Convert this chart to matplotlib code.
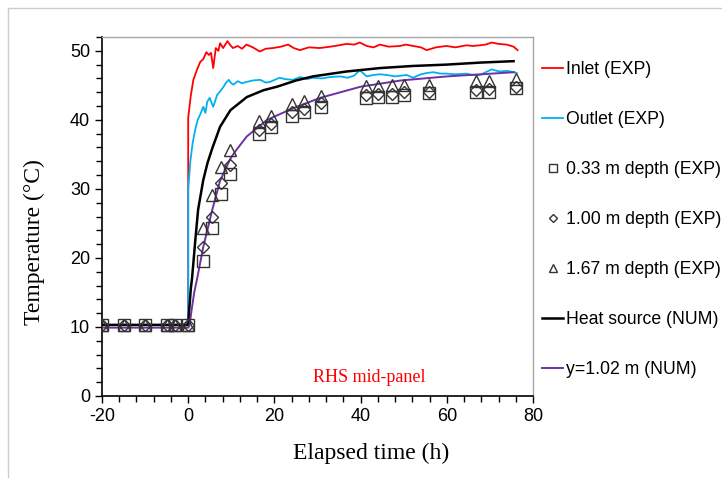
import numpy as np
import matplotlib
matplotlib.use("Agg")
import matplotlib.pyplot as plt
from matplotlib.lines import Line2D
from matplotlib.ticker import MultipleLocator

inlet = [(-20, 10.3), (0, 10.3), (0, 40.3), (0.6, 43.5), (1.2, 45.8), (2.0, 47.2),
         (2.8, 48.4), (3.5, 48.8), (4.2, 49.8), (4.8, 49.4), (5.3, 49.7), (5.8, 47.5),
         (6.4, 50.4), (7.0, 50.0), (7.4, 51.1), (8.1, 50.4), (8.6, 50.9), (9.1, 51.4),
         (9.8, 50.8), (10.4, 50.4), (11.5, 50.7), (12.5, 50.3), (13.5, 50.9), (15.0, 50.5),
         (16.6, 49.9), (18.0, 50.3), (19.7, 50.4), (21.5, 50.6), (23.2, 50.9), (24.5, 50.4),
         (25.9, 50.1), (28.0, 50.5), (30.5, 50.4), (33.0, 50.6), (35.0, 50.8), (36.7, 51.0),
         (38.5, 50.9), (39.8, 51.2), (41.4, 50.7), (43.0, 50.5), (44.5, 50.9), (46.5, 50.6),
         (49.1, 50.7), (50.5, 50.9), (52.2, 50.7), (54.0, 50.5), (55.3, 50.1), (57.5, 50.5),
         (59.9, 50.7), (62.0, 50.5), (64.6, 50.8), (66.0, 50.7), (67.7, 50.8), (69.0, 50.9),
         (70.4, 51.2), (72.0, 51.0), (73.9, 50.9), (75.5, 50.6), (76.4, 50.1)]

outlet = [(-20, 10.3), (0, 10.3), (0, 30.0), (0.5, 34.0), (1.0, 36.5), (1.6, 38.5),
          (2.2, 40.0), (2.8, 40.8), (3.5, 41.9), (4.0, 41.0), (4.4, 42.6), (5.0, 43.2),
          (5.4, 42.5), (5.8, 41.9), (6.3, 42.8), (6.7, 43.6), (7.5, 44.2), (8.2, 44.8),
          (8.8, 45.4), (9.4, 45.8), (10.0, 45.3), (10.5, 45.1), (11.5, 45.6), (12.5, 45.3),
          (13.6, 45.5), (15.0, 45.7), (16.7, 45.8), (18.0, 45.4), (19.0, 45.5), (21.2, 46.1),
          (22.5, 45.9), (24.3, 45.8), (26.0, 46.2), (27.5, 45.9), (29.0, 46.1), (31.0, 46.0),
          (33.0, 46.2), (35.2, 46.3), (37.0, 46.1), (38.5, 46.4), (39.8, 47.2), (41.4, 46.3),
          (43.0, 46.5), (44.5, 46.6), (46.0, 46.5), (48.0, 46.3), (50.7, 46.5), (52.2, 46.1),
          (54.0, 46.6), (55.5, 46.8), (56.9, 46.9), (58.5, 46.7), (59.9, 46.7), (62.0, 46.6),
          (64.6, 46.7), (66.0, 46.5), (67.7, 46.5), (69.0, 46.9), (70.4, 47.3), (72.3, 47.0),
          (74.0, 47.1), (75.5, 46.9), (76.2, 46.8)]

heat_source = [(-20, 10.3), (0, 10.3), (0.3, 13.0), (0.6, 15.5), (0.9, 17.1), (1.6, 22.2),
               (2.3, 27.0), (3.5, 31.3), (4.5, 33.8), (5.6, 35.9), (7.4, 39.0), (9.8, 41.4),
               (13.6, 43.3), (17.5, 44.3), (20.6, 44.8), (25.0, 45.7), (29.0, 46.3),
               (36.7, 47.0), (44.5, 47.5), (52.0, 47.8), (59.9, 48.0), (68.0, 48.3), (75.5, 48.5)]

mid_panel = [(-20, 9.9), (0, 9.9), (0.3, 10.2), (0.8, 12.5), (1.4, 15.0), (2.1, 17.1),
             (3.5, 21.6), (5.6, 27.0), (7.4, 31.2), (9.8, 34.4), (11.0, 35.5), (13.6, 37.6),
             (18.3, 40.0), (24.4, 41.7), (30.7, 43.2), (40.0, 44.8), (49.3, 45.7),
             (60.2, 46.3), (68.0, 46.6), (75.6, 46.9)]

# Sensor readings
sample_t = [-20, -15, -10, -5, -3, 0, 3.4, 5.5, 7.6, 9.8, 16.5, 19.1, 24.1, 26.8, 30.7,
            41.2, 44.0, 47.2, 50.1, 55.9, 66.7, 69.8, 76.0]
depth_033 = [10.3, 10.3, 10.3, 10.3, 10.3, 10.3, 19.6, 24.4, 29.2, 32.2, 38.0, 38.9, 40.6,
             41.1, 41.9, 43.2, 43.3, 43.3, 43.6, 43.9, 44.1, 44.1, 44.6]
depth_100 = [10.3, 10.3, 10.3, 10.3, 10.3, 10.3, 21.6, 26.0, 30.8, 33.5, 38.6, 39.4, 41.2,
             41.6, 42.4, 43.6, 43.8, 43.8, 44.0, 44.1, 44.3, 44.4, 44.8]
depth_167 = [10.3, 10.3, 10.3, 10.3, 10.3, 10.3, 24.4, 29.1, 33.1, 35.6, 39.9, 40.6, 42.3,
             42.8, 43.4, 44.9, 44.9, 45.1, 45.1, 45.1, 45.6, 45.6, 45.9]

sans = ["Liberation Sans", "DejaVu Sans"]
serif = ["Liberation Serif", "DejaVu Serif"]
plt.rcParams["font.family"] = sans
plt.rcParams["axes.unicode_minus"] = False

fig = plt.figure(figsize=(7.22, 4.78), dpi=100)
ax = fig.add_axes([102 / 722, 1 - 396 / 478, 431 / 722, 359 / 478])

t, T = np.array(inlet).T
ax.plot(t, T, color="#ff0000", lw=1.3, label="Inlet (EXP)", zorder=3)
t, T = np.array(outlet).T
ax.plot(t, T, color="#00b0f0", lw=1.3, label="Outlet (EXP)", zorder=3)

mk = dict(ls="none", mfc="none", mec="#333333", mew=1.0, zorder=5)
ax.plot(sample_t, depth_033, marker="s", ms=8, label="0.33 m depth (EXP)", **mk)
ax.plot(sample_t, depth_100, marker="D", ms=6.5, label="1.00 m depth (EXP)", **mk)
ax.plot(sample_t, depth_167, marker="^", ms=9, label="1.67 m depth (EXP)", **mk)

t, T = np.array(heat_source).T
ax.plot(t, T, color="black", lw=1.8, label="Heat source (NUM)", zorder=4)
t, T = np.array(mid_panel).T
ax.plot(t, T, color="#7030a0", lw=1.4, label="y=1.02 m (NUM)", zorder=4)

ax.set_xlim(-20, 80)
ax.set_ylim(0, 52)
ax.xaxis.set_major_locator(MultipleLocator(20))
ax.xaxis.set_minor_locator(MultipleLocator(4))
ax.yaxis.set_major_locator(MultipleLocator(10))
ax.yaxis.set_minor_locator(MultipleLocator(2))
ax.tick_params(which="both", direction="out", width=1, length=4, labelsize=13, color="black")
ax.tick_params(which="major", length=5)

for s in ["left", "bottom"]:
    ax.spines[s].set_color("black")
    ax.spines[s].set_linewidth(1.2)
for s in ["top", "right"]:
    ax.spines[s].set_color("#a6a6a6")
    ax.spines[s].set_linewidth(1.0)

ax.set_xlabel("Elapsed time (h)", fontsize=17, family=serif)
ax.xaxis.set_label_coords((371 - 102) / 431, -0.131)
ax.set_ylabel("Temperature (°C)", fontsize=17, family=serif)
ax.yaxis.set_label_coords(-0.132, 0.43)

ax.text(42.1, 2.75, "RHS mid-panel", color="#ff0000", fontsize=13, family=serif,
        ha="center", va="center")

fig.legend(loc="upper left", bbox_to_anchor=(542 / 722, 1 - 61 / 478), frameon=False,
           fontsize=12.7, handlelength=1.2, handletextpad=0.15, labelspacing=1.87,
           borderpad=0, borderaxespad=0, markerscale=0.7)

# outer light-gray frame of the original picture
fig.add_artist(Line2D([7.5 / 722, 7.5 / 722], [0, 1 - 7.5 / 478], color="#cccccc", lw=1))
fig.add_artist(Line2D([7.5 / 722, 1], [1 - 7.5 / 478, 1 - 7.5 / 478], color="#cccccc", lw=1))

fig.savefig("out.png", dpi=100)
